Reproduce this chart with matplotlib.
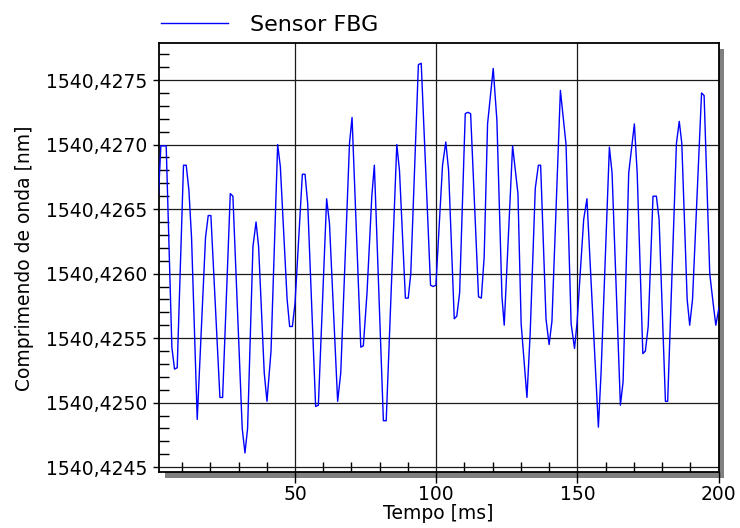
import matplotlib
matplotlib.use('Agg')
import matplotlib.pyplot as plt
from matplotlib.patches import Rectangle
from matplotlib.lines import Line2D

# ---- data ----
time_ms = [1.65, 2.48, 4.37, 6.38, 7.32, 8.27, 10.5, 11.46, 12.4, 13.35,
           15.36, 18.3, 19.26, 20.2, 23.4, 24.35, 27.07, 28.0, 31.3, 32.27,
           33.2, 35.1, 36.2, 37.1, 39.1, 40.07, 41.5, 43.85, 44.8, 47.2,
           48.1, 49.06, 50.0, 52.6, 53.55, 54.5, 57.3, 58.27, 61.2, 62.2,
           65.1, 66.2, 69.3, 70.2, 73.3, 74.2, 75.5, 77.2, 78.1, 81.3,
           82.3, 86.05, 87.0, 89.1, 90.1, 91.0, 93.7, 94.7, 98.0, 98.9,
           99.9, 102.25, 103.4, 104.4, 106.4, 107.3, 108.3, 110.3, 111.2, 112.2,
           115.0, 116.0, 117.0, 118.2, 120.2, 121.5, 123.3, 124.1, 127.07, 128.96,
           130.1, 132.15, 133.3, 135.1, 136.2, 137.0, 138.9, 140.0, 141.0, 144.0,
           146.0, 147.8, 149.0, 149.9, 152.25, 153.4, 157.45, 158.4, 161.35, 162.3,
           165.25, 166.2, 168.2, 170.2, 171.2, 173.2, 174.1, 175.1, 176.8, 178.0,
           178.96, 181.2, 182.0, 185.1, 186.1, 187.0, 188.9, 189.8, 190.8, 194.0,
           194.9, 196.9, 198.1, 199.05, 200.2]
wavelength_nm = [1540.42661, 1540.42699, 1540.42699, 1540.42543, 1540.42526, 1540.42527, 1540.42684, 1540.42684, 1540.42665, 1540.42628,
                 1540.42487, 1540.42628, 1540.42645, 1540.42645, 1540.42504, 1540.42504, 1540.42662, 1540.42660, 1540.42480, 1540.42461,
                 1540.42480, 1540.42621, 1540.42640, 1540.42621, 1540.42523, 1540.42501, 1540.42540, 1540.42700, 1540.42683, 1540.42580,
                 1540.42559, 1540.42559, 1540.42577, 1540.42677, 1540.42677, 1540.42654, 1540.42497, 1540.42498, 1540.42658, 1540.42639,
                 1540.42501, 1540.42523, 1540.42701, 1540.42721, 1540.42543, 1540.42544, 1540.42585, 1540.42660, 1540.42684, 1540.42486,
                 1540.42486, 1540.42700, 1540.42680, 1540.42581, 1540.42581, 1540.42600, 1540.42762, 1540.42763, 1540.42591, 1540.42590,
                 1540.42591, 1540.42684, 1540.42702, 1540.42680, 1540.42565, 1540.42567, 1540.42585, 1540.42724, 1540.42725, 1540.42724,
                 1540.42582, 1540.42581, 1540.42613, 1540.42716, 1540.42759, 1540.42719, 1540.42582, 1540.42560, 1540.42699, 1540.42662,
                 1540.42561, 1540.42504, 1540.42554, 1540.42666, 1540.42684, 1540.42684, 1540.42565, 1540.42545, 1540.42563, 1540.42742,
                 1540.42700, 1540.42561, 1540.42542, 1540.42562, 1540.42642, 1540.42658, 1540.42481, 1540.42523, 1540.42698, 1540.42678,
                 1540.42498, 1540.42516, 1540.42678, 1540.42716, 1540.42678, 1540.42538, 1540.42540, 1540.42559, 1540.42660, 1540.42660,
                 1540.42642, 1540.42501, 1540.42501, 1540.42701, 1540.42718, 1540.42701, 1540.42580, 1540.42560, 1540.42580, 1540.42740,
                 1540.42738, 1540.42600, 1540.42577, 1540.42560, 1540.42574]

x_ticks = [50, 100, 150, 200]
x_tick_labels = ['50', '100', '150', '200']
x_minor_ticks = [10, 20, 30, 40, 60, 70, 80, 90, 110, 120, 130, 140, 160, 170, 180, 190]
y_ticks = [1540.4245, 1540.4250, 1540.4255, 1540.4260, 1540.4265, 1540.4270, 1540.4275]
y_tick_labels = ['1540,4245', '1540,4250', '1540,4255', '1540,4260',
                 '1540,4265', '1540,4270', '1540,4275']
y_minor_ticks = [1540.4246, 1540.4247, 1540.4248, 1540.4249,
                 1540.4251, 1540.4252, 1540.4253, 1540.4254,
                 1540.4256, 1540.4257, 1540.4258, 1540.4259,
                 1540.4261, 1540.4262, 1540.4263, 1540.4264,
                 1540.4266, 1540.4267, 1540.4268, 1540.4269,
                 1540.4271, 1540.4272, 1540.4273, 1540.4274,
                 1540.4276, 1540.4277]
series_name = 'Sensor FBG'
x_label = 'Tempo [ms]'
y_label = 'Comprimendo de onda [nm]'

plt.rcParams['font.family'] = ['DejaVu Sans']

W, H = 740, 528
fig = plt.figure(figsize=(W / 100, H / 100), dpi=100)
L, R, T, B = 158.6, 718.5, 43.3, 472.3
ax = fig.add_axes([L / W, 1 - B / H, (R - L) / W, (B - T) / H])
ax.set_zorder(1)

# drop shadow
sh = 6
fig.add_artist(Rectangle(((L + sh) / W, 1 - (B + sh) / H), (R - L) / W, (B - T) / H,
                         transform=fig.transFigure, facecolor='#808080',
                         edgecolor='none', zorder=0))

ax.plot(time_ms, wavelength_nm, color='#0000ff', lw=1.0, zorder=3, clip_on=True)

ax.set_xlim(1.68, 200)
ax.set_ylim(1540.42446, 1540.427785)

ax.set_xticks(x_ticks, labels=x_tick_labels)
ax.set_xticks(x_minor_ticks, minor=True)
ax.set_yticks(y_ticks, labels=y_tick_labels)
ax.set_yticks(y_minor_ticks, minor=True)

ax.tick_params(axis='both', which='major', labelsize=13.5, color='black')
ax.tick_params(axis='x', which='major', direction='out', length=8, width=1, pad=1)
ax.tick_params(axis='y', which='major', direction='out', length=4, width=1, pad=4)
ax.tick_params(axis='both', which='minor', direction='in', length=7, width=1)

ax.grid(True, which='major', color='#1a1a1a', lw=0.9, zorder=1)
ax.set_axisbelow(True)
for s in ax.spines.values():
    s.set_linewidth(1.3)
    s.set_color('black')

ax.set_xlabel(x_label, fontsize=13.5, labelpad=0)
ax.set_ylabel(y_label, fontsize=13.5, labelpad=9)

handle = Line2D([], [], color='#0000ff', lw=1.0)
fig.legend([handle], [series_name], loc='center left',
           bbox_to_anchor=(161 / W, 1 - 25 / H), frameon=False,
           fontsize=16, handlelength=3.0, handletextpad=1.0,
           borderpad=0, borderaxespad=0)

fig.savefig('out.png', dpi=100)
